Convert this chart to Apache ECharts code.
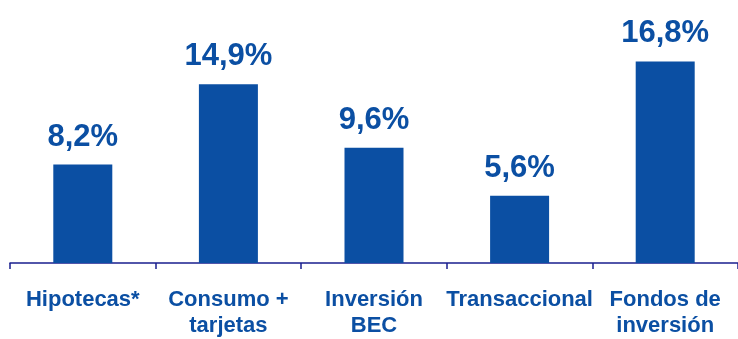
<!DOCTYPE html>
<html>
<head>
<meta charset="utf-8">
<script src="https://cdn.jsdelivr.net/npm/echarts@6/dist/echarts.min.js"></script>
<style>
html,body{margin:0;padding:0;background:#fff;}
#c{width:738px;height:339px;}
</style>
</head>
<body>
<div id="c"></div>
<script>
const categories = ['Hipotecas*', 'Consumo +\ntarjetas', 'Inversión\nBEC', 'Transaccional', 'Fondos de\ninversión'];
const values = [8.2, 14.9, 9.6, 5.6, 16.8];

const blue = '#0b4fa3';
const chart = echarts.init(document.getElementById('c'), null, {renderer: 'canvas'});
chart.setOption({
  animation: false,
  backgroundColor: '#ffffff',
  grid: {left: 10, top: 23, width: 735, height: 244, containLabel: false},
  xAxis: {
    type: 'category',
    data: categories,
    boundaryGap: true,
    axisLine: {show: true, lineStyle: {color: '#1a1f8f', width: 1.5}},
    axisTick: {show: true, length: 6, alignWithLabel: false, lineStyle: {color: '#1a1f8f', width: 1.5}},
    axisLabel: {
      interval: 0,
      margin: 24,
      color: blue,
      fontFamily: 'Liberation Sans',
      fontWeight: 'bold',
      fontSize: 22,
      lineHeight: 26
    }
  },
  yAxis: {
    type: 'value',
    min: 0,
    max: 20,
    show: false,
    splitLine: {show: false}
  },
  series: [{
    type: 'bar',
    data: values,
    barWidth: 59,
    itemStyle: {color: blue},
    label: {
      show: true,
      position: 'top',
      distance: 12,
      color: blue,
      fontFamily: 'Liberation Sans',
      fontWeight: 'bold',
      fontSize: 31,
      formatter: p => String(p.value).replace('.', ',') + '%'
    }
  }]
});
</script>
</body>
</html>
